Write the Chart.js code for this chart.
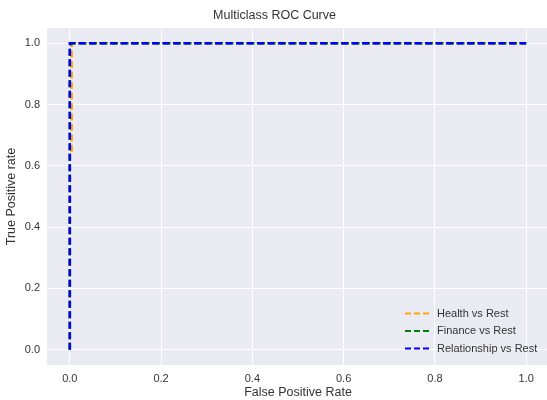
<!DOCTYPE html>
<html>
<head>
<meta charset="utf-8">
<script src="https://cdn.jsdelivr.net/npm/chart.js@4"></script>
<style>
html,body{margin:0;padding:0;background:#fff;overflow:hidden;width:547px;height:400px;}
canvas{display:block;}
</style>
</head>
<body>
<canvas id="c" width="550" height="400"></canvas>
<script>
const seriesNames = ['Health vs Rest', 'Finance vs Rest', 'Relationship vs Rest'];
const seriesColors = ['#FFA500', '#008000', '#0000FF'];
const fprHealth = [0, 0, 0.004, 0.004, 1];
const tprHealth = [0, 0.65, 0.65, 1, 1];
const fprFinance = [0, 0, 0.003, 1];
const tprFinance = [0, 0.99, 1, 1];
const fprRelationship = [0, 0, 1];
const tprRelationship = [0, 1, 1];
const tickValues = [0, 0.2, 0.4, 0.6, 0.8, 1.0];

const FONT = "'Liberation Sans', Arial, sans-serif";
const TEXT = '#333333';

function pts(xs, ys) { return xs.map((x, i) => ({x: x, y: ys[i]})); }

const bgPlugin = {
  id: 'bg',
  beforeDraw(chart) {
    const a = chart.chartArea, ctx = chart.ctx;
    ctx.save();
    ctx.fillStyle = '#EAEAF2';
    ctx.fillRect(a.left, a.top, a.right - a.left, a.bottom - a.top);
    ctx.restore();
  }
};

const legendPlugin = {
  id: 'innerLegend',
  afterDraw(chart) {
    const ctx = chart.ctx;
    ctx.save();
    const x0 = 405, x1 = 429, tx = 437;
    const ys = [313.5, 331, 348.5];
    chart.data.datasets.forEach((ds, i) => {
      ctx.strokeStyle = ds.borderColor;
      ctx.lineWidth = 1.8;
      ctx.setLineDash([6, 3]);
      ctx.beginPath();
      ctx.moveTo(x0, ys[i]);
      ctx.lineTo(x1, ys[i]);
      ctx.stroke();
      ctx.setLineDash([]);
      ctx.fillStyle = TEXT;
      ctx.font = '11px ' + FONT;
      ctx.textBaseline = 'middle';
      ctx.textAlign = 'left';
      ctx.fillText(ds.label, tx, ys[i]);
    });
    ctx.restore();
  }
};

const datasets = [
  {label: seriesNames[0], data: pts(fprHealth, tprHealth), borderColor: seriesColors[0], order: 2},
  {label: seriesNames[1], data: pts(fprFinance, tprFinance), borderColor: seriesColors[1], order: 1},
  {label: seriesNames[2], data: pts(fprRelationship, tprRelationship), borderColor: seriesColors[2], order: 0}
].map(d => Object.assign(d, {
  showLine: true, borderWidth: 2.5, borderDash: [7, 3.5], pointRadius: 0, pointHoverRadius: 0,
  backgroundColor: d.borderColor, fill: false, tension: 0
}));

new Chart(document.getElementById('c'), {
  type: 'scatter',
  data: {datasets: datasets},
  plugins: [bgPlugin, legendPlugin],
  options: {
    responsive: false,
    animation: false,
    devicePixelRatio: 1,
    layout: {padding: {left: 0, right: 1, top: 0, bottom: 0}},
    plugins: {
      legend: {display: false},
      tooltip: {enabled: false},
      title: {
        display: true,
        text: 'Multiclass ROC Curve',
        color: TEXT,
        font: {family: FONT, size: 12.5, weight: 'normal', lineHeight: 1.2},
        padding: {top: 8.5, bottom: 4.5}
      }
    },
    scales: {
      x: {
        type: 'linear', min: -0.05, max: 1.05,
        afterBuildTicks(s) { s.ticks = tickValues.map(v => ({value: v})); },
        afterFit(s) { s.height = 35; },
        border: {display: false},
        grid: {color: '#FFFFFF', lineWidth: 1, drawTicks: false},
        ticks: {color: TEXT, font: {family: FONT, size: 11}, padding: 7, maxRotation: 0,
                callback: v => Number(v).toFixed(1)},
        title: {display: true, text: 'False Positive Rate', color: TEXT,
                font: {family: FONT, size: 12.5, lineHeight: 1.2}, padding: {top: 0, bottom: 0}}
      },
      y: {
        type: 'linear', min: -0.05, max: 1.05,
        afterBuildTicks(s) { s.ticks = tickValues.map(v => ({value: v})); },
        afterFit(s) { s.width = 47; },
        border: {display: false},
        grid: {color: '#FFFFFF', lineWidth: 1, drawTicks: false},
        ticks: {color: TEXT, font: {family: FONT, size: 11}, padding: 7,
                callback: v => Number(v).toFixed(1)},
        title: {display: true, text: 'True Positive rate', color: TEXT,
                font: {family: FONT, size: 12.5, lineHeight: 1.2}, padding: {top: 4, bottom: 0}}
      }
    }
  }
});
</script>
</body>
</html>
